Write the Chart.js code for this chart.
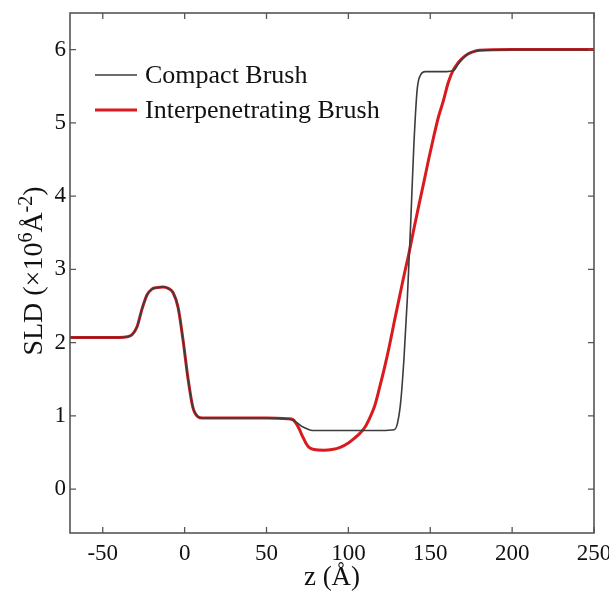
<!DOCTYPE html>
<html>
<head>
<meta charset="utf-8">
<script src="https://cdn.jsdelivr.net/npm/chart.js@4"></script>
<style>
  html, body { margin: 0; padding: 0; background: #fff; }
  #c { display: block; }
</style>
</head>
<body>
<canvas id="c" width="609" height="592"></canvas>
<script>
// Tick positions
const xTicks = [-50, 0, 50, 100, 150, 200, 250];
const yTicks = [0, 1, 2, 3, 4, 5, 6];

// SLD profile, compact brush
const zCompact = [-70, -40, -35, -32, -29, -26, -23, -20, -17, -13, -10, -7, -4, -1, 2, 5, 8, 11, 15, 30, 50, 63, 66, 69, 72, 75, 78, 82, 100, 120, 128, 130, 132, 134, 136, 138, 140, 142, 144, 147, 160, 164, 167, 170, 173, 176, 180, 200, 250];
const sldCompact = [2.07, 2.07, 2.08, 2.11, 2.22, 2.46, 2.65, 2.73, 2.75, 2.76, 2.74, 2.68, 2.48, 2.04, 1.52, 1.12, 0.99, 0.97, 0.97, 0.97, 0.97, 0.96, 0.94, 0.90, 0.85, 0.82, 0.80, 0.80, 0.80, 0.80, 0.81, 0.90, 1.20, 1.80, 2.60, 3.60, 4.70, 5.45, 5.65, 5.70, 5.70, 5.71, 5.80, 5.88, 5.94, 5.97, 5.99, 6.00, 6.00];

// SLD profile, interpenetrating brush
const zInterp = [-70, -40, -35, -32, -29, -26, -23, -20, -17, -13, -10, -7, -4, -1, 2, 5, 8, 11, 15, 30, 50, 63, 66, 68, 70, 72, 74, 76, 79, 85, 90, 95, 100, 104, 107, 110, 113, 116, 119, 122, 125, 128, 131, 134, 137, 140, 143, 146, 149, 152, 155, 158, 161, 164, 167, 170, 173, 176, 180, 200, 250];
const sldInterp = [2.07, 2.07, 2.08, 2.11, 2.22, 2.46, 2.65, 2.73, 2.75, 2.76, 2.74, 2.68, 2.48, 2.04, 1.52, 1.12, 0.99, 0.97, 0.97, 0.97, 0.97, 0.96, 0.95, 0.90, 0.82, 0.72, 0.63, 0.57, 0.54, 0.53, 0.54, 0.57, 0.63, 0.70, 0.76, 0.84, 0.97, 1.13, 1.38, 1.65, 1.95, 2.28, 2.60, 2.92, 3.22, 3.55, 3.87, 4.18, 4.50, 4.80, 5.08, 5.30, 5.55, 5.72, 5.82, 5.89, 5.94, 5.97, 5.99, 6.00, 6.00];

const seriesNames = ['Compact Brush', 'Interpenetrating Brush'];

const SERIF = '"Liberation Serif", "Times New Roman", serif';
const frameColor = '#555555';

const toPoints = (xs, ys) => xs.map((x, i) => ({ x, y: ys[i] }));

// Pin the plot box: no extra room reserved for overhanging edge labels
const noEdgePadding = s => { s.paddingLeft = 0; s.paddingRight = 0; s.paddingTop = 0; s.paddingBottom = 0; };

// Box around the axes with inward tick marks on all four sides
const framePlugin = {
  id: 'frame',
  afterDatasetsDraw(chart) {
    const { ctx, chartArea: a, scales: { x, y } } = chart;
    const len = 6;
    ctx.save();
    ctx.strokeStyle = frameColor;
    ctx.lineWidth = 1.6;
    ctx.strokeRect(a.left, a.top, a.right - a.left, a.bottom - a.top);
    ctx.lineWidth = 1.3;
    ctx.beginPath();
    xTicks.forEach(v => {
      const px = x.getPixelForValue(v);
      ctx.moveTo(px, a.bottom); ctx.lineTo(px, a.bottom - len);
      ctx.moveTo(px, a.top); ctx.lineTo(px, a.top + len);
    });
    yTicks.forEach(v => {
      const py = y.getPixelForValue(v);
      ctx.moveTo(a.left, py); ctx.lineTo(a.left + len, py);
      ctx.moveTo(a.right, py); ctx.lineTo(a.right - len, py);
    });
    ctx.stroke();
    ctx.restore();
  }
};

// Rotated y-axis title with raised superscripts
const yTitlePlugin = {
  id: 'yTitle',
  afterDraw(chart) {
    const { ctx, chartArea: a } = chart;
    const parts = [
      { t: 'SLD (×10', sup: false },
      { t: '6', sup: true },
      { t: 'Å', sup: false },
      { t: '-2', sup: true },
      { t: ')', sup: false }
    ];
    const base = '28px ' + SERIF, small = '20px ' + SERIF;
    ctx.save();
    let total = 0;
    parts.forEach(p => { ctx.font = p.sup ? small : base; p.w = ctx.measureText(p.t).width; total += p.w; });
    ctx.translate(33, (a.top + a.bottom) / 2 - 2);
    ctx.rotate(-Math.PI / 2);
    ctx.fillStyle = '#111';
    ctx.textBaseline = 'alphabetic';
    let cx = -total / 2;
    parts.forEach(p => {
      ctx.font = p.sup ? small : base;
      ctx.fillText(p.t, cx, p.sup ? -1 : 9);
      cx += p.w;
    });
    ctx.restore();
  }
};

// Legend in the upper left of the plot area
const legendPlugin = {
  id: 'innerLegend',
  afterDraw(chart) {
    const { ctx } = chart;
    const rows = [75, 110];
    ctx.save();
    ctx.font = '26px ' + SERIF;
    ctx.textBaseline = 'middle';
    ctx.fillStyle = '#111';
    chart.data.datasets.forEach((ds, i) => {
      const yy = rows[i];
      ctx.strokeStyle = ds.borderColor;
      ctx.lineWidth = ds.borderWidth;
      ctx.beginPath();
      ctx.moveTo(95, yy); ctx.lineTo(137, yy);
      ctx.stroke();
      ctx.fillText(ds.label, 145, yy + 1);
    });
    ctx.restore();
  }
};

new Chart(document.getElementById('c'), {
  type: 'line',
  data: {
    datasets: [
      {
        label: seriesNames[0],
        data: toPoints(zCompact, sldCompact),
        borderColor: '#3c3c3c',
        borderWidth: 1.6,
        pointRadius: 0,
        cubicInterpolationMode: 'monotone',
        fill: false
      },
      {
        label: seriesNames[1],
        data: toPoints(zInterp, sldInterp),
        borderColor: '#d91a1f',
        borderWidth: 3,
        pointRadius: 0,
        cubicInterpolationMode: 'monotone',
        fill: false
      }
    ]
  },
  options: {
    responsive: false,
    animation: false,
    layout: { padding: { left: 0, top: 13, right: 15, bottom: 0 } },
    plugins: { legend: { display: false }, tooltip: { enabled: false } },
    scales: {
      x: {
        type: 'linear',
        min: -70,
        max: 250,
        afterBuildTicks: s => { s.ticks = xTicks.map(v => ({ value: v })); },
        afterFit: s => { s.height = 59; noEdgePadding(s); },
        grid: { display: false, drawTicks: false },
        border: { display: false },
        ticks: { color: '#111', padding: 7, maxRotation: 0, autoSkip: false, font: { family: SERIF, size: 23 } },
        title: {
          display: true,
          text: 'z (Å)',
          color: '#111',
          padding: { top: 0, bottom: 1 },
          font: { family: SERIF, size: 27, lineHeight: 1 }
        }
      },
      y: {
        type: 'linear',
        min: -0.6,
        max: 6.5,
        afterBuildTicks: s => { s.ticks = yTicks.map(v => ({ value: v })); },
        afterFit: s => { s.width = 70; noEdgePadding(s); },
        grid: { display: false, drawTicks: false },
        border: { display: false },
        ticks: { color: '#111', padding: 4, autoSkip: false, font: { family: SERIF, size: 23 } },
        title: { display: false }
      }
    }
  },
  plugins: [framePlugin, yTitlePlugin, legendPlugin]
});
</script>
</body>
</html>
